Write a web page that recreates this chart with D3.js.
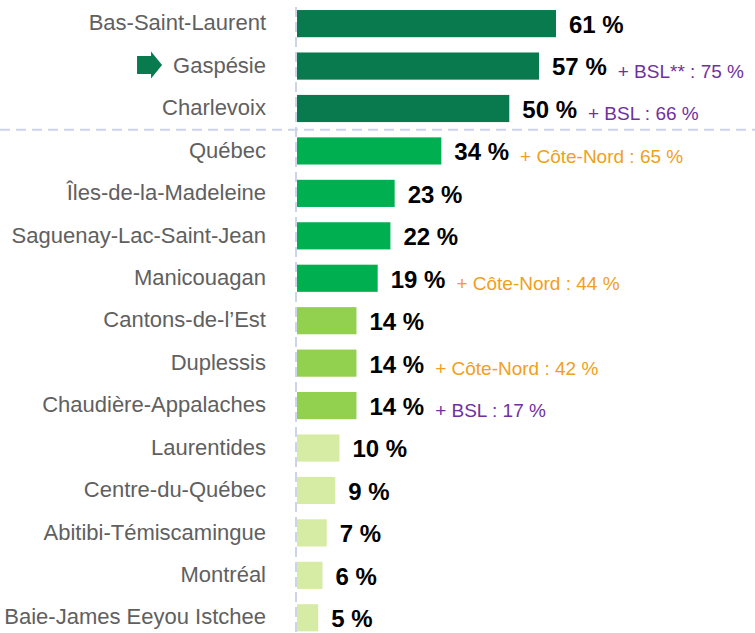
<!DOCTYPE html>
<html>
<head>
<meta charset="utf-8">
<script src="https://cdn.jsdelivr.net/npm/d3@7"></script>
<style>
  body { margin: 0; background: #fff; }
  text { font-family: "Liberation Sans", Arial, sans-serif; }
</style>
</head>
<body>
<div class="chart"></div>
<script>
(function(){
  // data
  var regions = ["Bas-Saint-Laurent", "Gaspésie", "Charlevoix", "Québec", "Îles-de-la-Madeleine",
                 "Saguenay-Lac-Saint-Jean", "Manicouagan", "Cantons-de-l\u2019Est", "Duplessis",
                 "Chaudière-Appalaches", "Laurentides", "Centre-du-Québec", "Abitibi-Témiscamingue",
                 "Montréal", "Baie-James Eeyou Istchee"];
  var values  = [61, 57, 50, 34, 23, 22, 19, 14, 14, 14, 10, 9, 7, 6, 5];
  var extras  = ["", "+ BSL** : 75 %", "+ BSL : 66 %", "+ Côte-Nord : 65 %", "", "",
                 "+ Côte-Nord : 44 %", "", "+ Côte-Nord : 42 %", "+ BSL : 17 %", "", "", "", "", ""];
  var highlighted = "Gaspésie";
  var splitAfter  = "Charlevoix";

  var width  = 755,
      height = 633;

  var svg = d3.select(".chart").append("svg")
      .attr("width", width)
      .attr("height", height);

  var x = d3.scaleLinear().domain([0, 61]).range([297, 556]);
  var y = d3.scaleBand().domain(regions).range([2.4, 639])
      .paddingInner(0.36).paddingOuter(0.18);
  var bw = y.bandwidth();

  // colour tiers follow the value
  var tier = d3.scaleThreshold().domain([12, 17, 45])
      .range(["#d6eba3", "#92d050", "#00b050", "#087a4d"]);

  var rows = regions.map(function(r, i){
    return {"region": r, "value": values[i], "extra": extras[i]};
  });

  // vertical axis line (dashed)
  svg.append("line")
      .attr("x1", 296).attr("x2", 296)
      .attr("y1", 7).attr("y2", height)
      .attr("stroke", "#ccd4ea").attr("stroke-width", 2)
      .attr("stroke-dasharray", "10,5");

  // separator between top 3 and the rest
  var sepY = (y(splitAfter) + bw + y(regions[regions.indexOf(splitAfter) + 1])) / 2;
  svg.append("line")
      .attr("x1", 0).attr("x2", width)
      .attr("y1", sepY).attr("y2", sepY)
      .attr("stroke", "#cbd3ea").attr("stroke-width", 2)
      .attr("stroke-dasharray", "10,6");

  svg.selectAll("rect.bar").data(rows).enter().append("rect")
      .attr("class", "bar")
      .attr("x", x(0))
      .attr("y", function(d){ return y(d.region); })
      .attr("width", function(d){ return x(d.value) - x(0); })
      .attr("height", bw)
      .attr("fill", function(d){ return tier(d.value); });

  // category labels
  var labels = svg.selectAll("text.cat").data(rows).enter().append("text")
      .attr("class", "cat")
      .attr("x", 266)
      .attr("y", function(d){ return y(d.region) + bw / 2 - 1; })
      .attr("dy", "0.35em")
      .attr("text-anchor", "end")
      .attr("font-size", 22)
      .attr("fill", "#606060")
      .text(function(d){ return d.region; });

  // value labels
  var vals = svg.selectAll("text.val").data(rows).enter().append("text")
      .attr("class", "val")
      .attr("x", function(d){ return x(d.value) + 13; })
      .attr("y", function(d){ return y(d.region) + bw / 2 + 1; })
      .attr("dy", "0.35em")
      .attr("font-size", 24)
      .attr("font-weight", "bold")
      .attr("fill", "#000")
      .text(function(d){ return d.value + " %"; });

  // extra notes
  vals.each(function(d){
    if(!d.extra){ return; }
    var end = x(d.value) + 13 + this.getComputedTextLength();
    svg.append("text")
        .attr("x", end + 11)
        .attr("y", y(d.region) + bw / 2 + 5)
        .attr("dy", "0.35em")
        .attr("font-size", 19)
        .attr("fill", d.extra.indexOf("BSL") >= 0 ? "#7030a0" : "#f0a020")
        .text(d.extra);
  });

  // arrow next to the highlighted region
  labels.filter(function(d){ return d.region === highlighted; }).each(function(d){
    var right = 266 - this.getComputedTextLength() - 11;
    var cy = y(d.region) + bw / 2 - 1;
    var left = right - 25;
    var pts = [[left, cy - 9], [left + 14, cy - 9], [left + 14, cy - 13.5], [right, cy],
               [left + 14, cy + 13.5], [left + 14, cy + 9], [left, cy + 9]];
    svg.append("path")
        .attr("d", d3.line()(pts) + "Z")
        .attr("fill", "#087a4d");
  });
})()
</script>
</body>
</html>
